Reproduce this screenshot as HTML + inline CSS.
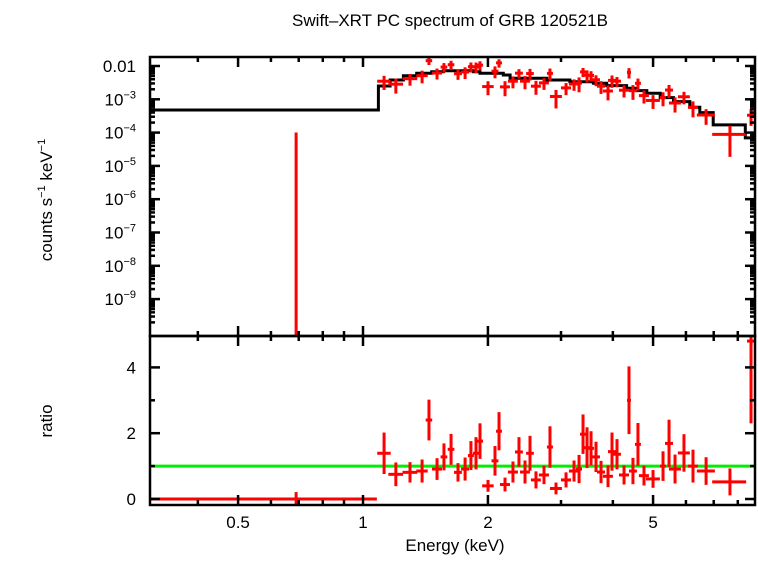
<!DOCTYPE html>
<html><head><meta charset="utf-8"><style>
body{margin:0;background:#fff;}
svg text{font-family:"Liberation Sans",sans-serif;}
</style></head><body>
<svg id="chart" width="758" height="556" xmlns="http://www.w3.org/2000/svg">
<text x="450" y="26" font-size="17" text-anchor="middle">Swift–XRT PC spectrum of GRB 120521B</text>
<text x="455" y="551" font-size="17" text-anchor="middle">Energy (keV)</text>
<text transform="translate(52,200) rotate(-90)" font-size="17" text-anchor="middle">counts s<tspan font-size="11" dy="-7">−1</tspan><tspan dy="7"> keV</tspan><tspan font-size="11" dy="-7">−1</tspan></text>
<text transform="translate(52,421) rotate(-90)" font-size="17" text-anchor="middle">ratio</text>
<g id="g"></g>
</svg>
<script>
const energy=[0.69,1.124,1.20,1.298,1.388,1.442,1.508,1.567,1.63,1.694,1.762,1.82,1.872,1.914,2.001,2.08,2.127,2.199,2.298,2.376,2.457,2.526,2.611,2.73,2.822,2.918,3.085,3.225,3.316,3.39,3.466,3.544,3.643,3.746,3.894,3.981,4.093,4.256,4.375,4.472,4.598,4.754,4.999,5.284,5.463,5.648,5.935,6.24,6.71,7.66,8.61];
const halfW=[0.39,0.042,0.049,0.053,0.044,0.026,0.042,0.029,0.03,0.037,0.039,0.03,0.031,0.032,0.064,0.04,0.035,0.061,0.064,0.052,0.068,0.054,0.072,0.076,0.047,0.097,0.086,0.09,0.055,0.056,0.058,0.059,0.081,0.083,0.108,0.088,0.091,0.118,0.049,0.099,0.076,0.132,0.194,0.088,0.121,0.188,0.197,0.173,0.335,0.72,0.19];
const ratio=[0,1.39,0.75,0.81,0.85,2.40,0.91,1.28,1.51,0.81,0.91,1.32,1.39,1.76,0.40,1.16,2.06,0.44,0.82,1.43,0.82,1.39,0.58,0.73,1.58,0.32,0.58,0.85,0.91,1.97,1.56,1.54,1.28,0.82,0.69,1.44,1.36,0.73,3.0,0.85,1.66,0.71,0.61,1.0,1.69,0.91,1.4,1.0,0.85,0.52,4.8];
const ratioErr=[0.21,0.63,0.36,0.31,0.35,0.62,0.33,0.41,0.47,0.28,0.35,0.44,0.49,0.54,0.18,0.45,0.58,0.21,0.32,0.45,0.35,0.53,0.26,0.28,0.63,0.18,0.23,0.32,0.43,0.6,0.62,0.52,0.46,0.34,0.33,0.58,0.46,0.29,1.03,0.4,0.65,0.3,0.27,0.45,0.72,0.44,0.57,0.5,0.42,0.41,2.5];
const modelEdges=[0.303,1.089,1.162,1.251,1.347,1.464,1.561,1.845,1.914,2.178,2.262,2.771,3.152,3.59,3.866,4.318,4.567,4.83,5.203,5.6,6.13,6.48,6.98,8.34,8.85];
const modelLog=[-3.32,-2.6,-2.42,-2.29,-2.22,-2.17,-2.14,-2.17,-2.22,-2.27,-2.37,-2.42,-2.47,-2.52,-2.59,-2.67,-2.74,-2.82,-2.95,-3.07,-3.24,-3.4,-3.77,-4.16];
const xMajor=[0.5,1,2,5];
const xMinor=[0.4,0.6,0.7,0.8,0.9,3,4,6,7,8];
const yTopDecades=[-2,-3,-4,-5,-6,-7,-8,-9];
const yTopLabels=["0.01","10|−3","10|−4","10|−5","10|−6","10|−7","10|−8","10|−9"];
const yBotMajor=[0,2,4];
const yBotMinor=[1,3];

const L=150,R=755,T=57,MID=336,B=505;
const X0=363,DEC=415;
const xs=e=>X0+Math.log10(e)*DEC;
const yTop=lg=>66+(-2-lg)*33.3;
const yBot=r=>499-r*32.9;
const g=document.getElementById('g');
const NS='http://www.w3.org/2000/svg';
function mk(tag,attrs,parent){const el=document.createElementNS(NS,tag);for(const k in attrs)el.setAttribute(k,attrs[k]);(parent||g).appendChild(el);return el;}
function modelAt(e){for(let i=0;i<modelLog.length;i++){if(e>=modelEdges[i]&&e<modelEdges[i+1])return Math.pow(10,modelLog[i]);}return Math.pow(10,modelLog[modelLog.length-1]);}

const defs=mk('defs',{});
const c1=mk('clipPath',{id:'cTop'},defs);mk('rect',{x:L,y:T,width:R-L,height:MID-T},c1);
const c2=mk('clipPath',{id:'cBot'},defs);mk('rect',{x:L,y:MID,width:R-L,height:B-MID},c2);

const one=mk('line',{x1:L,x2:R,y1:yBot(1),y2:yBot(1),stroke:'#00ee00','stroke-width':3});



let d='';
for(let i=0;i<modelLog.length;i++){
  const x1=xs(modelEdges[i]),x2=xs(modelEdges[i+1]),y=yTop(modelLog[i]);
  d+=(i===0?'M':'L')+x1.toFixed(1)+','+y.toFixed(1)+' L'+x2.toFixed(1)+','+y.toFixed(1)+' ';
}
const gTop=mk('g',{'clip-path':'url(#cTop)'});


const mp=mk('path',{d:d,fill:'none',stroke:'#000','stroke-width':3},gTop);



const gBot=mk('g',{'clip-path':'url(#cBot)'});



for(let i=0;i<energy.length;i++){
  const e=energy[i],m=modelAt(e);
  const x=xs(e),xl=xs(e-halfW[i]),xr=xs(e+halfW[i]);
  const f=m*ratio[i],fe=m*ratioErr[i];
  const pt=mk('g',{stroke:'#ff0000','stroke-width':3},gTop);
  
  
  const yHi=yTop(Math.log10(f+fe));
  const yLo=(f-fe)>0?yTop(Math.log10(f-fe)):MID+5;
  mk('line',{x1:x,x2:x,y1:yHi,y2:yLo},pt);
  if(f>0){const yc=yTop(Math.log10(f));mk('line',{x1:xl,x2:xr,y1:yc,y2:yc},pt);}
  const pb=mk('g',{stroke:'#ff0000','stroke-width':3},gBot);
  
  
  mk('line',{x1:x,x2:x,y1:yBot(ratio[i]+ratioErr[i]),y2:yBot(ratio[i]-ratioErr[i])},pb);
  const yr=yBot(ratio[i]);
  mk('line',{x1:xl,x2:xr,y1:yr,y2:yr},pb);
}

const fr=mk('g',{fill:'none',stroke:'#000','stroke-width':2.5});


mk('rect',{x:L,y:T,width:R-L,height:MID-T},fr);
mk('rect',{x:L,y:MID,width:R-L,height:B-MID},fr);

const tk=mk('g',{stroke:'#000','stroke-width':2.5});


function xt(v,len){const x=xs(v);[[T,1],[MID,-1],[MID,1],[B,-1]].forEach(([y,s])=>mk('line',{x1:x,x2:x,y1:y,y2:y+s*len},tk));}
xMajor.forEach(v=>xt(v,10));
xMinor.forEach(v=>xt(v,5));
function yt(y,len){mk('line',{x1:L,x2:L+len,y1:y,y2:y},tk);mk('line',{x1:R,x2:R-len,y1:y,y2:y},tk);}
yTopDecades.forEach(dd=>{
  yt(yTop(dd),10);
  for(let k=2;k<10;k++){const y=yTop(dd+Math.log10(k));if(y>T&&y<MID)yt(y,5);}
});
for(let k=2;k<10;k++){const y=yTop(-10+Math.log10(k));if(y<MID)yt(y,5);}
yBotMajor.forEach(v=>yt(yBot(v),10));
yBotMinor.forEach(v=>yt(yBot(v),5));

xMajor.forEach(v=>{
  const t=mk('text',{x:xs(v),y:528,'font-size':17,'text-anchor':'middle'});
  t.textContent=String(v);
  
  
});
yTopDecades.forEach((dd,i)=>{
  const y=yTop(dd)+6;
  const t=mk('text',{x:136,y:y,'font-size':17,'text-anchor':'end'});
  
  
  const parts=yTopLabels[i].split('|');
  if(parts.length===1){t.textContent=parts[0];}
  else{const a=mk('tspan',{},t);a.textContent=parts[0];const b=mk('tspan',{'font-size':11,dy:-7},t);b.textContent=parts[1];}
});
yBotMajor.forEach(v=>{
  const t=mk('text',{x:136,y:yBot(v)+6,'font-size':17,'text-anchor':'end'});
  t.textContent=String(v);
  
  
});
</script>
</body></html>
